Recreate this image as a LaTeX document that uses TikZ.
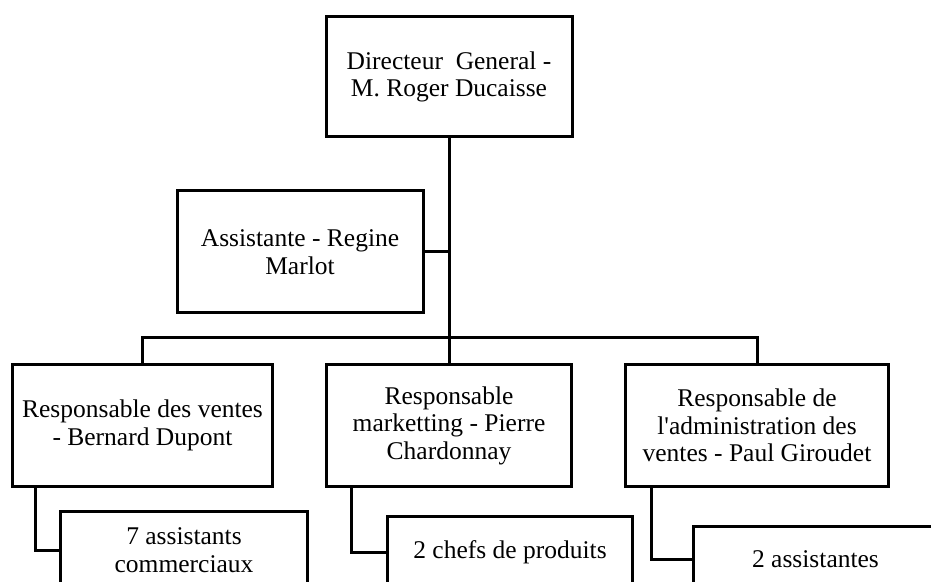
\documentclass[tikz,border=0pt]{standalone}
\usepackage{fontspec}
\setmainfont{Liberation Serif}
\usetikzlibrary{positioning}

\begin{document}
\begin{tikzpicture}[x=1pt,y=1pt,line width=3pt,node distance=51pt,
	box/.style={draw,rectangle,align=center,inner sep=0pt,font=\fontsize{25.5}{27.5}\selectfont}]
	\useasboundingbox (0,0) rectangle (931,581);
	\clip (0,0) rectangle (931,581);
	\node[box,minimum width=246pt,minimum height=120pt] (dir) at (449,504) {Directeur~ General -\\M. Roger Ducaisse};
	\node[box,minimum width=246pt,minimum height=122pt] (asst) [below=51pt of dir,xshift=-149pt] {Assistante - Regine\\Marlot};
	\node[box,minimum width=245pt,minimum height=121pt] (r2) [below=225pt of dir] {Responsable\\marketting - Pierre\\Chardonnay};
	\node[box,minimum width=260pt,minimum height=121pt] (r1) [left=of r2] {Responsable des ventes\\- Bernard Dupont};
	\node[box,minimum width=263pt,minimum height=121pt] (r3) [right=of r2] {Responsable de\\l\textquotesingle administration des\\ventes - Paul Giroudet};
	\node[box,minimum width=247pt,minimum height=78pt] (s1) [below right=22pt and 48pt of r1.south west] {7 assistants\\commerciaux};
	\node[box,minimum width=245pt,minimum height=72pt] (s2) [below right=27pt and 61pt of r2.south west] {2 chefs de produits};
	\node[box,minimum width=244pt,minimum height=66pt] (s3) [below right=37pt and 68pt of r3.south west] {2 assistantes};

	% liens
	\draw (dir.south) -- (r2.north);
	\draw (asst.east) -- (asst.east -| dir.south);
	\draw (r1.north) |- ([yshift=26pt]r2.north) -| (r3.north);
	\draw ([xshift=24pt]r1.south west) |- (s1.west);
	\draw ([xshift=26pt]r2.south west) |- (s2.west);
	\draw ([xshift=27pt]r3.south west) |- (s3.west);
\end{tikzpicture}
\end{document}
